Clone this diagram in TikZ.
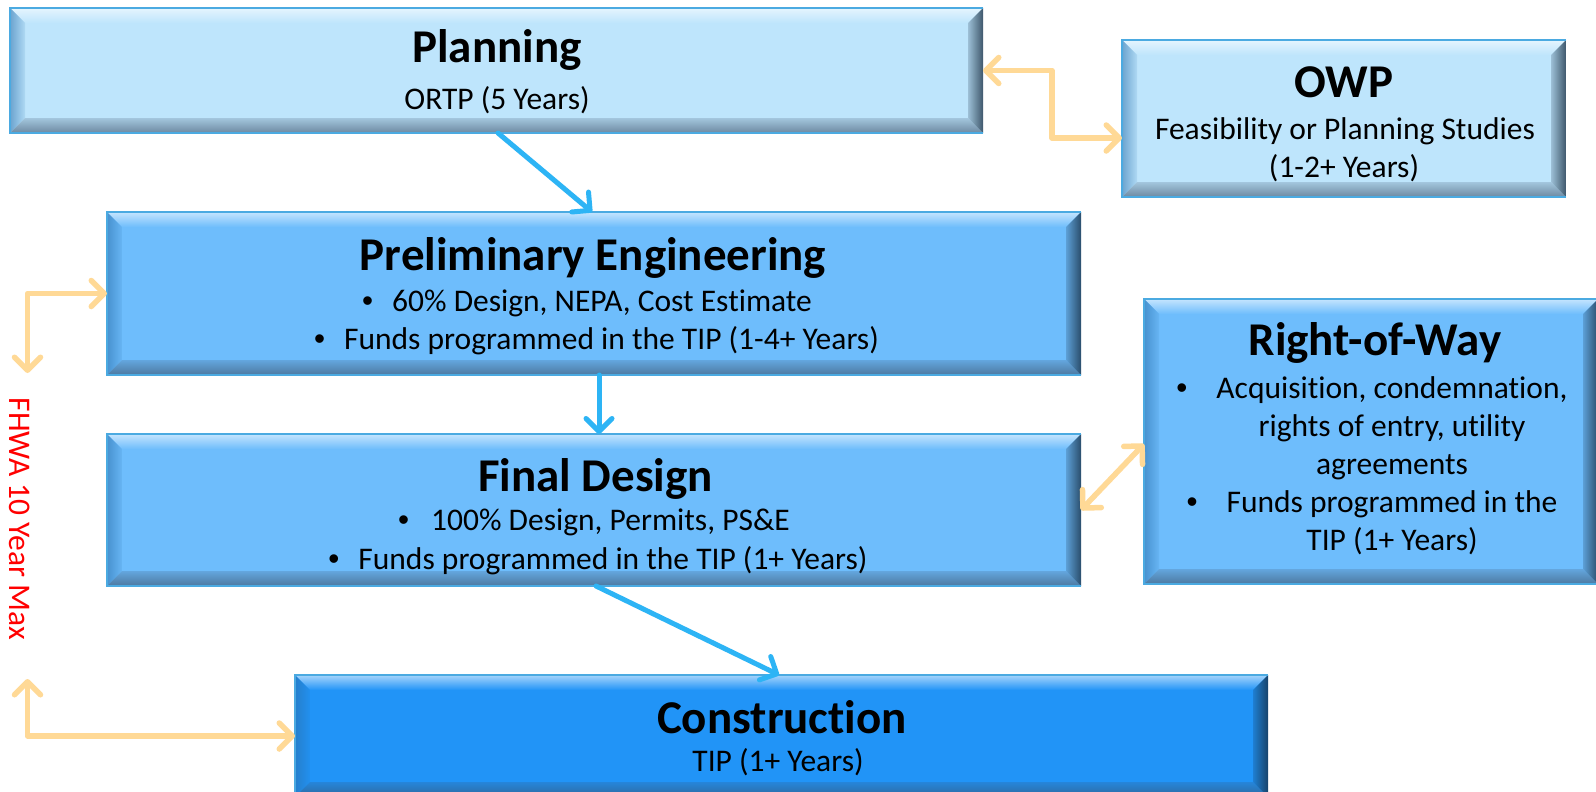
\documentclass[tikz,border=0pt]{standalone}
\usepackage{fontspec}
\setmainfont{Carlito}[Ligatures=NoCommon]
\newfontfamily\bulfont{Liberation Sans}
\usetikzlibrary{arrows.meta,calc}
\definecolor{lightbox}{RGB}{190,229,252}
\definecolor{midbox}{RGB}{110,189,252}
\definecolor{darkbox}{RGB}{33,148,247}
\definecolor{edgeblue}{RGB}{75,170,225}
\definecolor{flowblue}{RGB}{45,180,245}
\definecolor{flowor}{RGB}{255,217,150}
\definecolor{fhwared}{RGB}{255,0,0}
\definecolor{bevL}{RGB}{40,110,170}
\definecolor{bevB}{RGB}{55,75,100}
\definecolor{bevR}{RGB}{20,40,60}
\newcommand\bevelpanel[2]{%
  \shade[top color=#2!40!white, bottom color=#2]
    (#1.north west) -- (#1.north east) -- ([xshift=-15pt,yshift=-15pt]#1.north east)
    -- ([xshift=15pt,yshift=-15pt]#1.north west) -- cycle;
  \shade[left color=#2!45!bevL, right color=#2!90!bevL]
    (#1.north west) -- ([xshift=15pt,yshift=-15pt]#1.north west)
    -- ([xshift=15pt,yshift=15pt]#1.south west) -- (#1.south west) -- cycle;
  \shade[top color=#2!80!bevB, bottom color=#2!40!bevB]
    (#1.south west) -- ([xshift=15pt,yshift=15pt]#1.south west)
    -- ([xshift=-15pt,yshift=15pt]#1.south east) -- (#1.south east) -- cycle;
  \shade[left color=#2!80!bevR, right color=#2!25!bevR]
    (#1.north east) -- ([xshift=-15pt,yshift=-15pt]#1.north east)
    -- ([xshift=-15pt,yshift=15pt]#1.south east) -- (#1.south east) -- cycle;
  \draw[edgeblue, line width=1.5pt] (#1.north east) -- (#1.north west) -- (#1.south west) -- (#1.south east);
}
\tikzset{
  panel/.style={fill=#1, draw=none, inner sep=0pt, outer sep=0pt},
  title/.style={font=\fontsize{47}{56}\selectfont\bfseries, anchor=base, inner sep=0pt},
  body/.style={font=\fontsize{31.5}{38}\selectfont, anchor=base, inner sep=0pt},
  bluearrow/.style={draw=flowblue, line width=5pt, line cap=round,
    -{Straight Barb[length=13pt,width=26pt,round]}},
  orarrow/.style={draw=flowor, line width=5.5pt, line cap=round, line join=round,
    {Straight Barb[length=13pt,width=26pt,round]}-{Straight Barb[length=13pt,width=26pt,round]}}
}
\newcommand\bul[1]{\makebox[#1][l]{\bulfont •}}
\newcommand\hbul{\makebox[0pt][r]{\makebox[40pt][l]{\bulfont •}}}
\begin{document}
\begin{tikzpicture}[x=1pt,y=-1pt]
\fill[white] (0,0) rectangle (1596,792);
\useasboundingbox (0,0) rectangle (1596,792);

% Planning
\node[panel=lightbox, minimum width=973pt, minimum height=125pt] (plan) at (496.5,70.5) {};
\bevelpanel{plan}{lightbox}
\node[title] (plan-t) at (497,63) {Planning};
\node[body] (plan-b) at (497,109) {ORTP (5 Years)};

% OWP
\node[panel=lightbox, minimum width=444pt, minimum height=157pt] (owp) at (1344,118.5) {};
\bevelpanel{owp}{lightbox}
\node[title] (owp-t) at (1344,97) {OWP};
\node[body] (owp-b1) at (1345,139) {Feasibility or Planning Studies};
\node[body] (owp-b2) at (1344,177) {(1-2+ Years)};

% Preliminary Engineering
\node[panel=midbox, minimum width=974pt, minimum height=163pt] (pe) at (594,293.5) {};
\bevelpanel{pe}{midbox}
\node[title] (pe-t) at (593,270) {Preliminary Engineering};
\node[body] (pe-b1) at (587,311) {\bul{30pt}60\% Design, NEPA, Cost Estimate};
\node[body] (pe-b2) at (596.5,349) {\bul{30pt}Funds programmed in the TIP (1-4+ Years)};

% Final Design
\node[panel=midbox, minimum width=974pt, minimum height=152pt] (fd) at (594,510) {};
\bevelpanel{fd}{midbox}
\node[title] (fd-t) at (595.5,491) {Final Design};
\node[body] (fd-b1) at (594,530) {\bul{33pt}100\% Design, Permits, PS\&E};
\node[body] (fd-b2) at (598,569) {\bul{30pt}Funds programmed in the TIP (1+ Years)};

% Right-of-Way
\node[panel=midbox, minimum width=454pt, minimum height=285pt] (row) at (1371,441.5) {};
\bevelpanel{row}{midbox}
\node[title] (row-t) at (1375,355) {Right-of-Way};
\node[body] (row-b1) at (1392,398) {\hbul Acquisition, condemnation,};
\node[body] (row-b2) at (1392,436) {rights of entry, utility};
\node[body] (row-b3) at (1392,474) {agreements};
\node[body] (row-b4) at (1392,512) {\hbul Funds programmed in the};
\node[body] (row-b5) at (1392,550) {TIP (1+ Years)};

% Construction
\node[panel=darkbox, minimum width=973pt, minimum height=122pt] (cons) at (781.5,736) {};
\bevelpanel{cons}{darkbox}
\node[title] (cons-t) at (782,733) {Construction};
\node[body] (cons-b) at (778,771) {TIP (1+ Years)};

% FHWA label
\node[font=\fontsize{31.5}{38}\selectfont, text=fhwared, rotate=-90, inner sep=0pt] (fhwa) at (20,519) {FHWA 10 Year Max};
\coordinate (tl) at (27.5,373);
\coordinate (bl) at (27.5,679);

% flow arrows
\draw[bluearrow] ([xshift=1.5pt]plan.south) -- ([xshift=-2pt]pe.north);
\draw[bluearrow] ([xshift=5pt]pe.south) -- ([xshift=5pt]fd.north);
\draw[bluearrow] ([xshift=2pt]fd.south) -- ([xshift=-2.5pt]cons.north);

% two-way arrows
\draw[orarrow] (plan.east) -- ++(69pt,0) |- ([yshift=-19.5pt]owp.west);
\draw[orarrow] (fd.east) -- ([yshift=-2.5pt]row.west);
\draw[orarrow] (tl) |- (pe.west);
\draw[orarrow] (bl) |- (cons.west);
\end{tikzpicture}
\end{document}
